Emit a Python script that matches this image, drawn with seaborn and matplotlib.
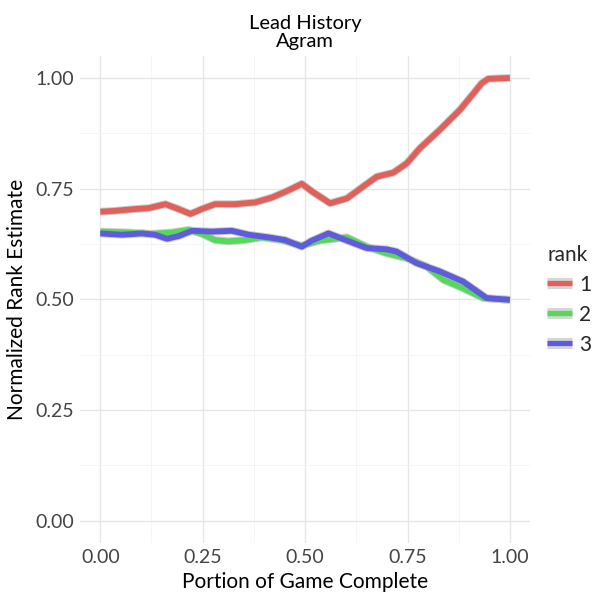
import matplotlib.pyplot as plt
import seaborn as sns
import pandas as pd
from matplotlib.lines import Line2D
from matplotlib.legend_handler import HandlerTuple

# values
x_red = [0.0, 0.037, 0.085, 0.118, 0.159, 0.191, 0.220, 0.248, 0.280, 0.329, 0.378,
         0.419, 0.459, 0.492, 0.518, 0.561, 0.602, 0.642, 0.675, 0.715, 0.748,
         0.780, 0.829, 0.878, 0.911, 0.931, 0.947, 1.0]
y_red = [0.698, 0.700, 0.704, 0.706, 0.715, 0.704, 0.693, 0.704, 0.715, 0.715, 0.719,
         0.730, 0.746, 0.761, 0.743, 0.717, 0.728, 0.755, 0.777, 0.786, 0.807,
         0.841, 0.883, 0.928, 0.965, 0.988, 0.998, 1.0]

x_green = [0.0, 0.069, 0.126, 0.175, 0.216, 0.248, 0.280, 0.313, 0.354, 0.394, 0.443,
           0.490, 0.537, 0.602, 0.650, 0.699, 0.748, 0.797, 0.838, 0.886, 0.935, 1.0]
y_green = [0.653, 0.651, 0.648, 0.651, 0.657, 0.648, 0.634, 0.631, 0.634, 0.640, 0.634,
           0.621, 0.633, 0.640, 0.619, 0.604, 0.593, 0.574, 0.544, 0.525, 0.503, 0.499]

x_blue = [0.0, 0.053, 0.102, 0.134, 0.163, 0.191, 0.224, 0.272, 0.321, 0.362, 0.411,
          0.451, 0.492, 0.515, 0.557, 0.602, 0.650, 0.699, 0.723, 0.772, 0.829,
          0.886, 0.943, 1.0]
y_blue = [0.649, 0.646, 0.649, 0.646, 0.637, 0.643, 0.655, 0.653, 0.655, 0.646, 0.640,
          0.634, 0.619, 0.632, 0.649, 0.633, 0.616, 0.613, 0.608, 0.582, 0.563,
          0.540, 0.503, 0.499]

ranks = ["1", "2", "3"]
palette = {"1": "#E0605A", "2": "#56D85A", "3": "#5E5BDC"}

df = pd.DataFrame({
    "portion": x_red + x_green + x_blue,
    "estimate": y_red + y_green + y_blue,
    "rank": ["1"] * len(x_red) + ["2"] * len(x_green) + ["3"] * len(x_blue),
})

sns.set_theme(style="white")
plt.rcParams['font.family'] = ['Lato', 'DejaVu Sans']

fig = plt.figure(figsize=(6, 6), dpi=100)
ax = fig.add_axes([0.133, 0.095, 0.751, 0.812])

# grey band (smoother se ribbon) under each line
for xs, ys in [(x_red, y_red), (x_green, y_green), (x_blue, y_blue)]:
    ax.plot(xs, ys, color="#CDCDCD", linewidth=5.6, solid_joinstyle="round",
            solid_capstyle="butt", zorder=2)

sns.lineplot(data=df, x="portion", y="estimate", hue="rank", palette=palette,
             linewidth=4.2, ax=ax, legend=False, zorder=3, estimator=None, sort=True)
for ln in ax.lines[3:]:
    ln.set_solid_joinstyle("round")
    ln.set_solid_capstyle("butt")

ax.set_xlim(-0.05, 1.05)
ax.set_ylim(-0.05, 1.05)
ticks = [0, 0.25, 0.5, 0.75, 1.0]
tick_labels = ["0.00", "0.25", "0.50", "0.75", "1.00"]
ax.set_xticks(ticks)
ax.set_yticks(ticks)
ax.set_xticklabels(tick_labels)
ax.set_yticklabels(tick_labels)
ax.set_xticks([0.125, 0.375, 0.625, 0.875], minor=True)
ax.set_yticks([0.125, 0.375, 0.625, 0.875], minor=True)
ax.grid(True, which="major", color="#E6E6E6", linewidth=1.0)
ax.grid(True, which="minor", color="#F4F4F4", linewidth=0.6)
ax.set_axisbelow(True)
for s in ax.spines.values():
    s.set_visible(False)
ax.tick_params(which="both", length=0, labelsize=14, labelcolor="#444444", pad=4)

ax.set_xlabel("Portion of Game Complete", fontsize=15, color="black", labelpad=5)
ax.set_ylabel("Normalized Rank Estimate", fontsize=15, color="black", labelpad=6)
ax.set_title("Lead History\nAgram", fontsize=14.5, color="black", linespacing=1.1, pad=6)

handles = [(Line2D([], [], color="#D6D6D6", linewidth=8.0, solid_capstyle="butt"),
            Line2D([], [], color=palette[r], linewidth=3.8, solid_capstyle="butt"))
           for r in ranks]
leg = fig.legend(handles, ranks, title="rank", loc="center left",
                 bbox_to_anchor=(0.912, 0.5), frameon=False, fontsize=15,
                 title_fontsize=15, handlelength=1.2, handleheight=1.0,
                 handletextpad=0.35, labelspacing=0.45, borderpad=0,
                 borderaxespad=0,
                 handler_map={tuple: HandlerTuple(ndivide=1, pad=0)})
leg._legend_box.align = "left"

fig.savefig("out.png", dpi=100)
